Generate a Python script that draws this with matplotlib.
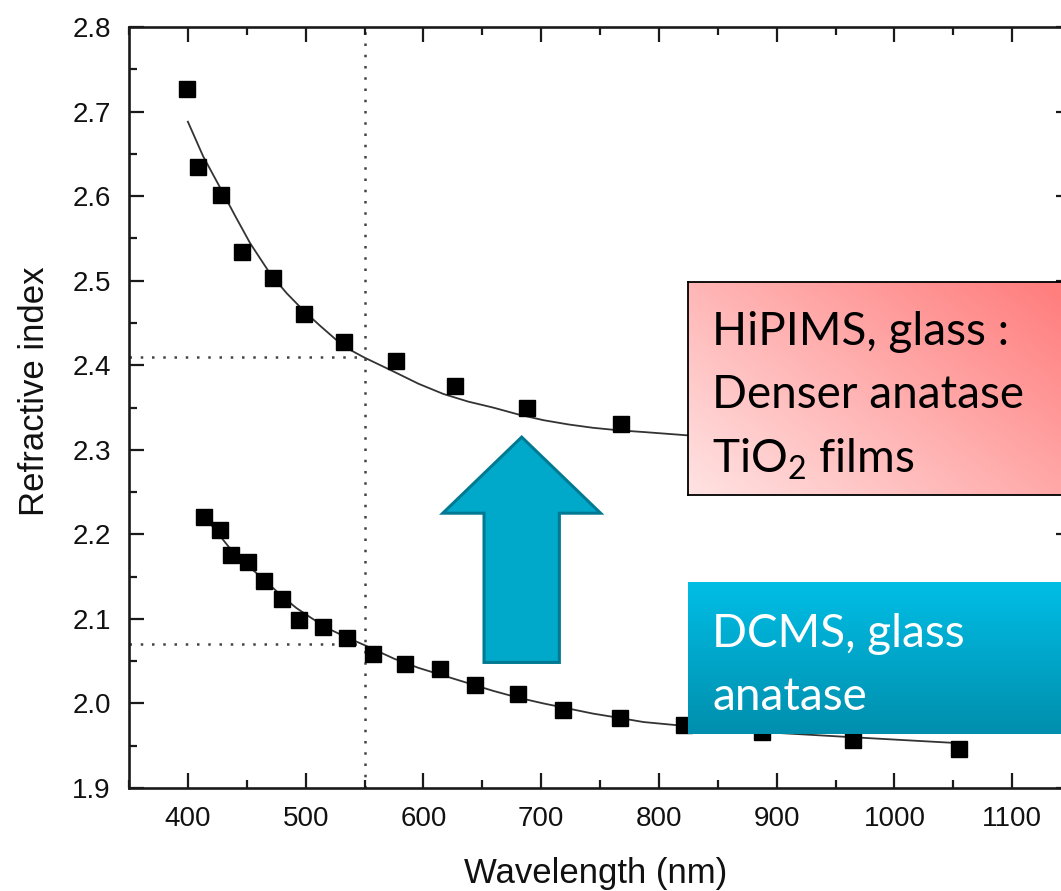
import numpy as np
import matplotlib
matplotlib.use("Agg")
import matplotlib.pyplot as plt
from matplotlib.patches import FancyArrow
from matplotlib.ticker import MultipleLocator

hipims_wl = [399, 409, 428, 446, 472, 499, 533, 577, 627, 688, 768]
hipims_n = [2.727, 2.634, 2.601, 2.534, 2.503, 2.461, 2.428, 2.405, 2.375, 2.349, 2.330]
dcms_wl = [414, 427, 437, 451, 465, 480, 494, 515, 535, 557, 584, 614, 644, 680, 719, 767, 821, 888, 965, 1055]
dcms_n = [2.220, 2.205, 2.176, 2.167, 2.145, 2.124, 2.099, 2.090, 2.077, 2.059, 2.047, 2.041, 2.022,
          2.011, 1.992, 1.983, 1.975, 1.966, 1.957, 1.946]

# fitted curves
hipims_fit_wl = [400, 413, 427, 440, 453, 470, 484, 498, 512, 526, 538, 550, 574, 596, 617, 638, 659, 680,
                 702, 723, 744, 766, 787, 825, 880]
hipims_fit_n = [2.688, 2.647, 2.611, 2.577, 2.544, 2.508, 2.485, 2.465, 2.447, 2.430, 2.418, 2.409, 2.393,
                2.378, 2.366, 2.357, 2.350, 2.342, 2.335, 2.330, 2.326, 2.323, 2.321, 2.317, 2.313]
dcms_fit_wl = [414, 425, 436, 450, 465, 479, 492, 506, 520, 535, 550, 575, 596, 617, 638, 659, 680, 702,
               723, 744, 766, 787, 825, 890, 965, 1055]
dcms_fit_n = [2.222, 2.202, 2.183, 2.164, 2.146, 2.128, 2.113, 2.100, 2.088, 2.078, 2.069, 2.053, 2.042,
              2.033, 2.024, 2.015, 2.007, 2.000, 1.994, 1.988, 1.983, 1.978, 1.973, 1.966, 1.960, 1.953]

ref_wl = 550
ref_n = [2.41, 2.07]

W, H = 1061, 891
fig = plt.figure(figsize=(W / 100, H / 100), dpi=100)
fig.patch.set_facecolor("white")

def px(x0, y0, x1, y1):
    # pixel box (top-left origin) -> figure fraction rect
    return [x0 / W, 1 - y1 / H, (x1 - x0) / W, (y1 - y0) / H]

ax = fig.add_axes(px(129, 27, 1071, 788))
ax.set_xlim(350, 1150)
ax.set_ylim(1.9, 2.8)

dot = dict(color="#444444", lw=1.8, ls=(0, (1, 3.5)), zorder=1)
ax.axvline(ref_wl, **dot)
for n in ref_n:
    ax.plot([350, ref_wl], [n, n], **dot)

ax.plot(hipims_fit_wl, hipims_fit_n, color="#333333", lw=1.3, zorder=2)
ax.plot(dcms_fit_wl, dcms_fit_n, color="#333333", lw=1.3, zorder=2)
ax.plot(hipims_wl, hipims_n, "s", color="black", ms=11, zorder=3)
ax.plot(dcms_wl, dcms_n, "s", color="black", ms=11, zorder=3)

ax.xaxis.set_minor_locator(MultipleLocator(50))
ax.yaxis.set_minor_locator(MultipleLocator(0.05))
ax.set_xticks(np.arange(400, 1101, 100))
ax.set_yticks(np.round(np.arange(1.9, 2.81, 0.1), 1))
ax.set_yticklabels([f"{v:.1f}" for v in np.arange(1.9, 2.81, 0.1)])
ax.tick_params(which="both", direction="in", top=True, right=True, width=1.6, color="#1a1a1a",
               labelsize=20, labelcolor="#111111", pad=13)
ax.tick_params(which="major", length=11)
ax.tick_params(which="minor", length=6)
for lab in ax.get_xticklabels() + ax.get_yticklabels():
    lab.set_family("Liberation Sans")
for s in ax.spines.values():
    s.set_linewidth(1.9)
    s.set_color("#1a1a1a")

fig.text(596 / W, 1 - 873 / H, "Wavelength (nm)", ha="center", va="center",
         fontsize=25, family="Liberation Sans", color="#111111")
fig.text(35 / W, 1 - 391 / H, "Refractive index", ha="center", va="center", rotation=90,
         fontsize=25, family="Liberation Sans", color="#111111")

# big up arrow
arrow = FancyArrow(683.5, 2.0485, 0, 0.2665, width=64, head_width=134, head_length=0.09,
                   length_includes_head=True, facecolor="#00a9c9", edgecolor="#007a93", lw=2.2, zorder=5)
ax.add_patch(arrow)

# pink gradient box
bp = fig.add_axes(px(688, 282, 1070, 495))
u, v = np.meshgrid(np.linspace(0, 1, 200), np.linspace(1, 0, 120))
t = np.clip(0.6 * u + 0.45 * v, 0, 1)[..., None]
light = np.array([1.0, 0.89, 0.89])
dark = np.array([1.0, 0.50, 0.50])
bp.imshow(light * (1 - t) + dark * t, extent=[0, 1, 0, 1], aspect="auto")
bp.set_xticks([])
bp.set_yticks([])
for s in bp.spines.values():
    s.set_linewidth(1.3)
    s.set_color("black")

# blue gradient box
bb = fig.add_axes(px(688, 582, 1070, 734))
v2 = np.linspace(0, 1, 120)[:, None, None] * np.ones((1, 10, 1))
top = np.array([0.0, 0.745, 0.90])
bot = np.array([0.0, 0.56, 0.68])
bb.imshow(top * (1 - v2) + bot * v2, extent=[0, 1, 0, 1], aspect="auto")
bb.set_xticks([])
bb.set_yticks([])
for s in bb.spines.values():
    s.set_visible(False)

plt.rcParams["mathtext.fontset"] = "custom"
plt.rcParams["mathtext.rm"] = "Lato"
box_font = dict(family="Lato", fontsize=33, va="baseline", ha="left")
fig.text(712 / W, 1 - 345 / H, "HiPIMS, glass :", color="black", **box_font)
fig.text(712 / W, 1 - 408 / H, "Denser anatase", color="black", **box_font)
fig.text(712 / W, 1 - 472 / H, r"TiO$_{\mathrm{2}}$ films", color="black", **box_font)
fig.text(712 / W, 1 - 647 / H, "DCMS, glass", color="white", **box_font)
fig.text(712 / W, 1 - 710 / H, "anatase", color="white", **box_font)

fig.savefig("out.png", dpi=100)
